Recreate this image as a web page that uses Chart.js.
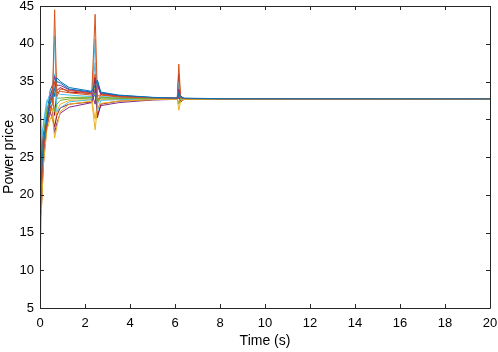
<!DOCTYPE html>
<html>
<head>
<meta charset="utf-8">
<script src="https://cdn.jsdelivr.net/npm/chart.js@4/dist/chart.umd.min.js"></script>
<style>
  html, body { margin: 0; padding: 0; background: #fff; }
  #wrap { width: 498px; height: 352px; }
</style>
</head>
<body>
<div id="wrap"><canvas id="c" width="498" height="352"></canvas></div>
<script>
const timeS = [0, 0.05, 0.15, 0.3, 0.45, 0.55, 0.65, 0.75, 0.9, 1.3, 2.3, 2.45, 2.55, 2.7, 3.5, 5, 6.1, 6.17, 6.25, 6.4, 8, 20];

const s1  = [30, 22, 27, 30, 32, 33, 34, 35.5, 35, 34.2, 33.7, 34.5, 35.2, 33.6, 33.2, 32.9, 32.8, 33.5, 33.0, 32.8, 32.72, 32.7];
const s2  = [14, 20, 26, 29, 31, 32, 44.5, 33, 34, 33.8, 33.4, 43.9, 33.0, 33.3, 33.0, 32.85, 32.78, 37.3, 32.9, 32.75, 32.71, 32.7];
const s3  = [9.5, 17, 24, 28.5, 30, 30.5, 27.5, 29, 31, 32, 32.4, 28.6, 31.5, 32.1, 32.4, 32.6, 32.65, 31.2, 32.4, 32.65, 32.69, 32.7];
const s4  = [28, 19, 25, 29, 33, 34, 35.7, 34.5, 34.5, 33.9, 33.5, 32.0, 34.8, 33.4, 33.1, 32.85, 32.78, 34, 32.9, 32.75, 32.71, 32.7];
const s5  = [22, 23, 27, 31, 32.5, 33, 31, 32, 32.5, 32.7, 32.8, 33.5, 32.3, 32.8, 32.75, 32.72, 32.71, 32.0, 32.8, 32.7, 32.7, 32.7];
const s6  = [38, 28, 29, 32, 33.5, 33, 41, 31, 31.5, 32.3, 32.6, 40.6, 31.0, 32.5, 32.6, 32.68, 32.7, 35, 32.6, 32.7, 32.7, 32.7];
const s7  = [40, 17.5, 24, 29, 31, 30, 29, 30.5, 31.5, 32.0, 32.3, 35.5, 30.2, 32.0, 32.4, 32.6, 32.65, 36, 32.3, 32.65, 32.69, 32.7];
const s8  = [26, 20, 26, 30.5, 33.8, 34.5, 33, 35, 34.8, 34.0, 33.6, 33.0, 35.0, 33.5, 33.15, 32.88, 32.79, 33.2, 33.0, 32.76, 32.71, 32.7];
const s9  = [18, 21, 27, 30, 31.5, 32, 35, 33.5, 33.7, 33.5, 33.2, 36, 32.5, 33.2, 32.95, 32.82, 32.76, 34.5, 32.9, 32.74, 32.7, 32.7];
const s10 = [12, 18, 25, 29.5, 31, 31.5, 29, 31, 32, 32.5, 32.6, 30, 32.2, 32.6, 32.6, 32.67, 32.69, 32.2, 32.6, 32.7, 32.7, 32.7];
const s11 = [33, 24, 28, 30, 31.8, 31, 28.2, 29.5, 30.8, 31.6, 32.2, 33.8, 30.5, 31.8, 32.2, 32.55, 32.63, 33.0, 32.3, 32.63, 32.69, 32.7];
const s12 = [24, 25, 28, 31.5, 32, 32.5, 33.5, 32.8, 32.8, 32.9, 32.9, 34.5, 32.5, 32.9, 32.8, 32.74, 32.72, 33.2, 32.7, 32.72, 32.7, 32.7];
const s13 = [35, 26, 29.5, 32.5, 33, 34, 36, 33.5, 33.3, 33.2, 33.0, 37.5, 32.0, 33.0, 32.9, 32.78, 32.74, 35.5, 32.5, 32.73, 32.7, 32.7];
const s14 = [20, 18, 25, 30, 32.5, 33.5, 30.5, 33.8, 34.2, 33.6, 33.4, 34, 34.5, 33.3, 33.05, 32.8, 32.76, 32.8, 33.1, 32.74, 32.71, 32.7];

const seriesList = [s1, s2, s3, s4, s5, s6, s7, s8, s9, s10, s11, s12, s13, s14];
const colors = ['#0072BD', '#D95319', '#EDB120', '#7E2F8E', '#77AC30', '#4DBEEE', '#A2142F'];

const xTicks = [0, 2, 4, 6, 8, 10, 12, 14, 16, 18, 20];
const yTicks = [5, 10, 15, 20, 25, 30, 35, 40, 45];

const datasets = seriesList.map((s, i) => ({
  data: s.map((v, k) => ({ x: timeS[k], y: v })),
  borderColor: colors[i % colors.length],
  borderWidth: 1,
  pointRadius: 0,
  tension: 0,
  fill: false
}));

const boxPlugin = {
  id: 'box',
  afterDraw(chart) {
    const ctx = chart.ctx, a = chart.chartArea;
    const xs = chart.scales.x, ys = chart.scales.y;
    ctx.save();
    ctx.strokeStyle = '#262626';
    ctx.lineWidth = 1;
    ctx.beginPath();
    ctx.rect(Math.round(a.left) + 0.5, Math.round(a.top) + 0.5, Math.round(a.right - a.left), Math.round(a.bottom - a.top));
    ctx.stroke();
    const L = 4;
    ctx.beginPath();
    xTicks.forEach(t => {
      const px = Math.round(xs.getPixelForValue(t)) + 0.5;
      ctx.moveTo(px, a.bottom); ctx.lineTo(px, a.bottom - L);
      ctx.moveTo(px, a.top); ctx.lineTo(px, a.top + L);
    });
    yTicks.forEach(t => {
      const py = Math.round(ys.getPixelForValue(t)) + 0.5;
      ctx.moveTo(a.left, py); ctx.lineTo(a.left + L, py);
      ctx.moveTo(a.right, py); ctx.lineTo(a.right - L, py);
    });
    ctx.stroke();
    ctx.restore();
  }
};

new Chart(document.getElementById('c'), {
  type: 'line',
  data: { datasets },
  plugins: [boxPlugin],
  options: {
    responsive: false,
    animation: false,
    layout: { padding: { top: 0, right: 0, left: 0, bottom: 0 } },
    plugins: { legend: { display: false }, tooltip: { enabled: false } },
    scales: {
      x: {
        type: 'linear', min: 0, max: 20,
        afterBuildTicks: s => { s.ticks = xTicks.map(v => ({ value: v })); },
        afterFit: s => { s.height = 44; s.paddingRight = 8; s.paddingLeft = 0; },
        grid: { display: false, drawTicks: false },
        border: { display: false },
        ticks: { color: '#000', padding: 8, font: { family: 'Liberation Sans', size: 13 }, maxRotation: 0 },
        title: { display: true, text: 'Time (s)', color: '#000', font: { family: 'Liberation Sans', size: 14 }, padding: { top: 0, bottom: 2 } }
      },
      y: {
        type: 'linear', min: 5, max: 45,
        afterBuildTicks: s => { s.ticks = yTicks.map(v => ({ value: v })); },
        afterFit: s => { s.width = 40; s.paddingTop = 6; s.paddingBottom = 0; },
        grid: { display: false, drawTicks: false },
        border: { display: false },
        ticks: { color: '#000', padding: 6, font: { family: 'Liberation Sans', size: 13 } },
        title: { display: true, text: 'Power price', color: '#000', font: { family: 'Liberation Sans', size: 14 }, padding: { top: 1, bottom: 0 } }
      }
    }
  }
});
</script>
</body>
</html>
